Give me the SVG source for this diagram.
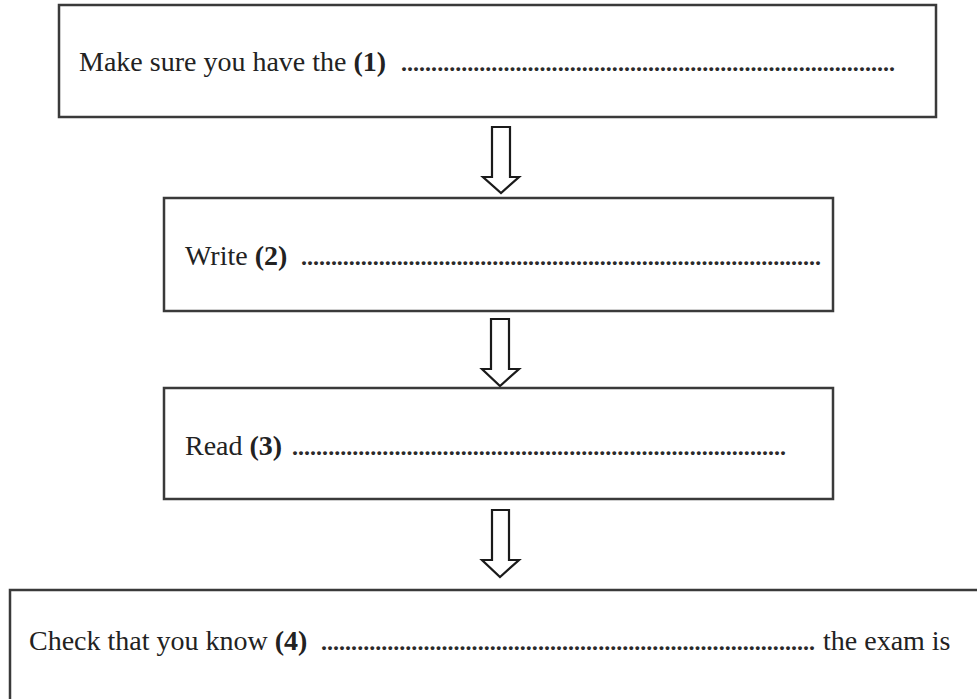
<svg xmlns="http://www.w3.org/2000/svg" width="977" height="699" viewBox="0 0 977 699">
<style>
.box{fill:#fff;stroke:#3a3a3a;stroke-width:2.5}
.arr{fill:#fff;stroke:#1a1a1a;stroke-width:2.2;stroke-linejoin:miter}
.t{font-family:"Liberation Serif","DejaVu Serif",serif;font-size:28px;fill:#222}
.b{font-weight:bold}
.d{font-family:"Liberation Serif","DejaVu Serif",serif;font-size:24px;font-weight:bold;fill:#2a2a2a}
</style>
<rect width="977" height="699" fill="#fff"/>
<g id="connectors">
<polygon class="arr" points="492,127 510,127 510,177 519,177 501,193 483,177 492,177"/>
<polygon class="arr" points="491,319 509,319 509,369 519,369 500,386 482,369 491,369"/>
<polygon class="arr" points="492,510 509,510 509,560 519,560 500,577 482,560 492,560"/>
</g>
<g id="node1">
<rect class="box" x="59" y="5" width="877" height="112"/>
<text class="t" x="79" y="71">Make sure you have the <tspan class="b">(1)</tspan></text>
<text class="d" x="401" y="71" textLength="494" lengthAdjust="spacing">..................................................................................</text>
</g>
<g id="node2">
<rect class="box" x="164" y="198" width="669" height="113"/>
<text class="t" x="185" y="265">Write <tspan class="b">(2)</tspan></text>
<text class="d" x="301" y="265" textLength="520" lengthAdjust="spacing">.......................................................................................</text>
</g>
<g id="node3">
<rect class="box" x="164" y="388" width="669" height="111"/>
<text class="t" x="185" y="455">Read <tspan class="b">(3)</tspan></text>
<text class="d" x="292" y="455" textLength="494" lengthAdjust="spacing">..................................................................................</text>
</g>
<g id="node4">
<rect class="box" x="10" y="590" width="1000" height="200"/>
<text class="t" x="29" y="650">Check that you know <tspan class="b">(4)</tspan></text>
<text class="d" x="321" y="650" textLength="494" lengthAdjust="spacing">..................................................................................</text>
<text class="t" x="823" y="650">the exam is</text>
</g>
</svg>
